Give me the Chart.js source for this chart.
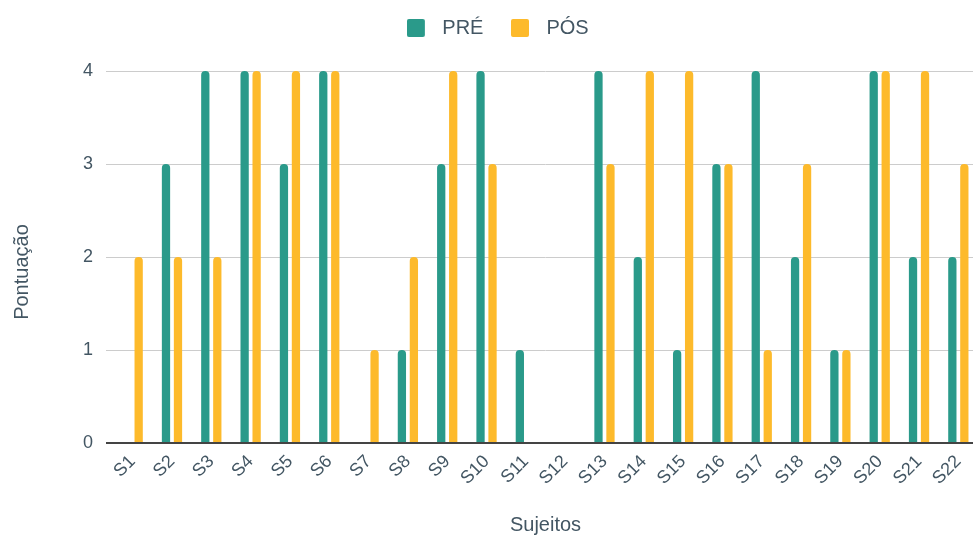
<!DOCTYPE html>
<html>
<head>
<meta charset="utf-8">
<script src="https://cdn.jsdelivr.net/npm/chart.js@4"></script>
<style>
  html, body { margin: 0; padding: 0; background: #fff; overflow: hidden; }
  #wrap { width: 996px; height: 537px; position: relative; }
</style>
</head>
<body>
<div id="wrap"><canvas id="chart"></canvas></div>
<script>
const subjects = ['S1','S2','S3','S4','S5','S6','S7','S8','S9','S10','S11','S12','S13','S14','S15','S16','S17','S18','S19','S20','S21','S22'];
const preScores  = [0,3,4,4,3,4,0,1,3,4,1,0,4,2,1,3,4,2,1,4,2,2];
const postScores = [2,2,2,4,4,4,1,2,4,3,0,0,3,4,4,3,1,3,1,4,4,3];
const seriesNames = ['PRÉ', 'PÓS'];
const seriesColors = ['#2a9a8a', '#fdba2b'];
const yTicks = [0, 1, 2, 3, 4];

const TEXT = '#435663';
const FONT = '"Liberation Sans", Arial, sans-serif';

// legend swatch: rounded 18px square on the left of a wider cell, leaving room before the text
function swatch(color) {
  const c = document.createElement('canvas');
  c.width = 26; c.height = 18;
  const g = c.getContext('2d');
  g.fillStyle = color;
  g.beginPath();
  g.roundRect(0, 0, 18, 18, 2);
  g.fill();
  return c;
}

// extra space between the legend and the plot, legend centred on the full width,
// y title sitting a little below the axis middle
const layoutTweaks = {
  id: 'layoutTweaks',
  beforeInit(chart) {
    const legend = chart.legend;
    const fit = legend.fit;
    legend.fit = function () {
      fit.call(this);
      this.height += 23;
    };
    const draw = legend.draw;
    legend.draw = function () {
      this.ctx.save();
      this.ctx.translate(6, 0);
      draw.apply(this, arguments);
      this.ctx.restore();
    };
  },
  beforeDraw(chart) {
    const s = chart.scales.y;
    if (s && !s._titleShifted) {
      const orig = s.drawTitle;
      s.drawTitle = function () {
        this.ctx.save();
        this.ctx.translate(0, 15);
        orig.apply(this, arguments);
        this.ctx.restore();
      };
      s._titleShifted = true;
    }
  }
};

new Chart(document.getElementById('chart'), {
  type: 'bar',
  data: {
    labels: subjects,
    datasets: [
      { label: seriesNames[0], data: preScores, backgroundColor: seriesColors[0],
        borderRadius: { topLeft: 4, topRight: 4 }, borderSkipped: 'bottom' },
      { label: seriesNames[1], data: postScores, backgroundColor: seriesColors[1],
        borderRadius: { topLeft: 4, topRight: 4 }, borderSkipped: 'bottom' }
    ]
  },
  plugins: [layoutTweaks],
  options: {
    responsive: true,
    maintainAspectRatio: false,
    animation: false,
    layout: { padding: { left: 6, right: 18, top: -10, bottom: 0 } },
    datasets: { bar: { categoryPercentage: 0.61, barPercentage: 0.69 } },
    plugins: {
      tooltip: { enabled: false },
      legend: {
        position: 'top',
        labels: {
          color: TEXT,
          font: { family: FONT, size: 20 },
          usePointStyle: true,
          pointStyleWidth: 25,
          boxHeight: 18,
          padding: 28,
          generateLabels(chart) {
            const items = Chart.defaults.plugins.legend.labels.generateLabels(chart);
            items.forEach((it, i) => { it.pointStyle = swatch(seriesColors[i]); });
            return items;
          }
        }
      }
    },
    scales: {
      x: {
        grid: { display: false, drawTicks: false },
        border: { display: true, color: '#444', width: 2 },
        ticks: { color: TEXT, font: { family: FONT, size: 18 }, maxRotation: 45, minRotation: 45, padding: 8 },
        title: { display: true, text: 'Sujeitos', color: TEXT, font: { family: FONT, size: 20 }, padding: { top: 16, bottom: 0 } }
      },
      y: {
        min: 0, max: 4,
        afterBuildTicks: s => { s.ticks = yTicks.map(v => ({ value: v })); },
        grid: {
          color: c => c.tick && c.tick.value === 0 ? '#444' : '#cccccc',
          lineWidth: c => c.tick && c.tick.value === 0 ? 2 : 1,
          tickLength: 7
        },
        border: { display: false },
        ticks: { color: TEXT, font: { family: FONT, size: 18 }, padding: 13 },
        title: { display: true, text: 'Pontuação', color: TEXT, font: { family: FONT, size: 20 }, padding: { top: 4, bottom: 36 } }
      }
    }
  }
});
</script>
</body>
</html>
